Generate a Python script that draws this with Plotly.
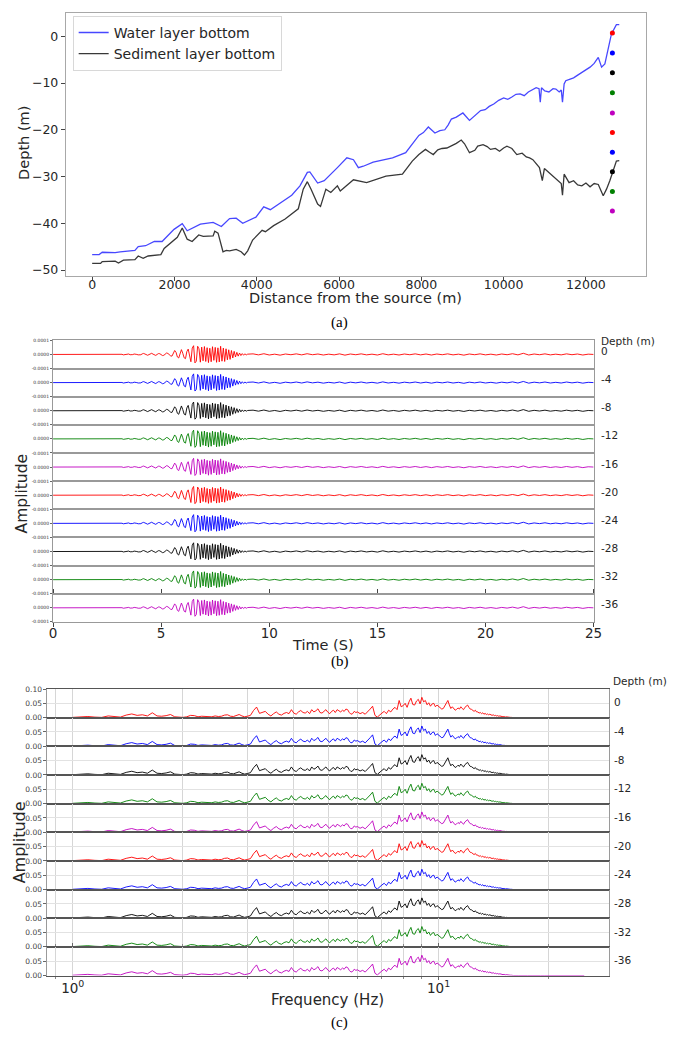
import numpy as np
import plotly.graph_objects as go

W, H = 686, 1039


def fx(px):
    return px / W


def fy(py):
    return 1 - py / H


# ---------------- panel (a) data ----------------
water_dist = [0, 170, 245, 560, 680, 1040, 1120, 1300, 1510, 1700,
              1990, 2190, 2310, 2630, 2940, 3140, 3340, 3500, 3660, 3980,
              4170, 4330, 4850, 5050, 5230, 5290, 5480, 5640, 5960,
              6190, 6350, 6470, 6590, 6830, 7300, 7620, 7940, 8050, 8170,
              8330, 8450, 8570, 8650, 8730, 8850, 9010, 9170, 9300, 9440,
              9550, 9650, 9760, 9880, 10000, 10100, 10200, 10300, 10400, 10500,
              10600, 10700, 10790, 10860, 10890, 10920, 10950, 11000, 11100, 11200,
              11270, 11350, 11400, 11430, 11470, 11510, 11600, 11700, 11800, 11900,
              12000, 12100, 12200, 12300, 12380, 12460, 12620, 12740, 12810]
water_depth = [-46.7, -46.7, -46.2, -46.3, -46.1, -45.8, -45.0, -44.8, -43.9, -43.9,
               -41.3, -40.1, -41.6, -40.2, -39.8, -40.7, -39.0, -38.9, -40.0, -38.7,
               -36.5, -37.1, -34.0, -32.0, -29.1, -29.0, -31.4, -30.9, -28.1,
               -26.0, -26.4, -28.1, -27.8, -26.9, -26.0, -24.9, -21.2, -20.6, -19.4,
               -20.7, -20.2, -20.0, -19.0, -17.7, -17.3, -16.4, -18.0, -16.9, -15.9,
               -15.7, -15.0, -14.5, -13.7, -13.2, -13.5, -13.0, -12.4, -12.3, -12.7,
               -11.9, -11.4, -11.0, -11.2, -14.1, -11.0, -11.3, -11.7, -11.9, -11.2,
               -11.3, -11.9, -11.5, -14.1, -10.2, -9.5, -9.2, -8.9, -8.3, -7.7,
               -7.2, -6.6, -5.8, -4.5, -6.6, -5.9, 0.5, 2.5, 2.5]

sed_dist = [0, 205, 245, 560, 640, 760, 1040, 1120, 1240, 1360,
            1670, 1750, 2070, 2190, 2310, 2430, 2590, 2700, 2940, 2980,
            3060, 3180, 3260, 3340, 3500, 3620, 3700, 3780, 3900, 4130,
            4210, 4410, 4690, 5010, 5130, 5230, 5320, 5480, 5550, 5680,
            5800, 5960, 6030, 6350, 6670, 7140, 7540, 7780, 7940, 8100,
            8200, 8290, 8400, 8500, 8620, 8730, 8850, 8970, 9050, 9170,
            9300, 9370, 9500, 9600, 9680, 9800, 9900, 10000, 10080, 10200,
            10320, 10450, 10550, 10630, 10710, 10870, 10940, 10990, 11270, 11400,
            11430, 11470, 11590, 11700, 11800, 11900, 12000, 12100, 12200, 12300,
            12420, 12500, 12580, 12660, 12740, 12810]
sed_depth = [-48.6, -48.6, -48.2, -48.1, -48.5, -47.9, -47.8, -47.0, -47.5, -47.0,
             -46.7, -45.4, -43.0, -41.0, -43.4, -43.9, -42.5, -42.8, -42.7, -41.7,
             -42.1, -46.1, -45.8, -45.9, -45.6, -46.1, -46.8, -45.9, -43.6, -41.5,
             -41.8, -40.5, -39.1, -36.9, -32.7, -31.1, -32.7, -35.9, -36.4, -32.7,
             -33.4, -32.0, -33.1, -30.7, -31.3, -29.9, -29.5, -26.7, -25.3, -24.2,
             -24.8, -25.3, -24.3, -24.0, -23.9, -23.5, -22.9, -22.2, -23.0, -24.9,
             -24.4, -23.5, -23.2, -23.6, -24.2, -24.0, -24.6, -23.9, -23.5, -24.0,
             -25.3, -25.0, -25.8, -26.0, -26.4, -28.1, -30.9, -28.3, -30.6, -31.5,
             -34.0, -29.5, -31.3, -30.9, -31.8, -32.0, -31.4, -32.2, -31.5, -31.7,
             -34.1, -32.7, -30.9, -28.8, -26.7, -26.6]

receiver_dist = 12643
receiver_depth = [0.7, -3.6, -7.8, -12.1, -16.4, -20.6, -24.8, -29.0, -33.2, -37.4]
trace_colors = ["#ff0000", "#0000ff", "#000000", "#008000", "#bf00bf",
                "#ff0000", "#0000ff", "#000000", "#008000", "#bf00bf"]
depth_labels = ["0", "-4", "-8", "-12", "-16", "-20", "-24", "-28", "-32", "-36"]

a_xticks = [0, 2000, 4000, 6000, 8000, 10000, 12000]
a_yticks = [0, -10, -20, -30, -40, -50]

# ---------------- panel (b) data (amplitude in 1e-6) ----------------
t_pre = [0.0, 2.9375]
wave_pre = [0, 0]
wave_main = [0, 2, 4, 1, -3, -2, 2, 5, 3, -2, -4, -1, 3, 4, 0, -3,
             -5, -2, 4, 7, 3, -4, -6, -1, 5, 8, 2, -5, -7, 0, 6, 5,
             -2, -8, -6, 3, 10, 7, -4, -10,
             -12, 6, 28, 15, -18, -25, 12, 34,
             8, -24, -30, 20, 38, -10, -52, 45,
             62, -60, -48, 58, 40, -55, 52, -45,
             56, -50, 48, -58, 44, -52, 55, -42,
             50, -56, 47, -53, 58, -48, 45, -50,
             40, -38, 33, -35, 28, -25, 22, -18,
             15, -12, 10, -8, 6, -5, 4, -3, 2]
wave_tail = [4, -3, 5, -4, 2, -5, 3, -2,
             4, -3, 5, -2, 3, -4, 2, -3,
             4, -5, 3, -2, 4, -3, 2, -4,
             5, -3, 2, -4, 3, -2, 4, -3,
             3, -4, 3, -2, 4, -3, 2, -5,
             3, -2, 4, -3, 2, -4, 3, -2,
             5, -3, 8, -4, 3, -2, 4, -3,
             2, -3, 4, -2, 3, -4, 2, 0]
t_main = 3.0 + 0.0625 * np.arange(len(wave_main))
t_tail = 9.25 + 0.25 * np.arange(len(wave_tail))
b_xticks = [0, 5, 10, 15, 20, 25]

# ---------------- panel (c) data (amplitude in 1e-3) ----------------
spec_a = [1, 2, 4, 2, 1, 6, 3, 2, 9, 13,
          8, 10, 6, 17, 6, 5, 7, 11, 3, 2,
          1, 3, 8, 7, 3, 5, 4, 2, 3, 6,
          4, 5, 9, 10, 5, 4, 8, 11, 6, 3, 5]
spec_b = [8, 25, 37, 15, 18, 22, 12, 6, 14, 20,
          12, 9, 15, 18, 14, 28, 16, 12, 20, 25,
          18, 16, 22, 14, 28, 20, 24, 31, 18, 16,
          22, 28, 19, 14, 22, 26, 18, 28, 24, 20,
          26, 22, 30, 28, 18, 12, 14, 22, 18, 20]
spec_c = [14, 18, 12, 20, 30, 40, 8, 2, 10, 16,
          22, 14, 26, 20, 30, 36, 28, 60, 38, 42,
          50, 36, 55, 68, 46, 44, 58, 64, 48, 71,
          55, 60, 45, 52, 40, 48, 50, 38, 44, 40,
          36, 30, 32, 42, 50, 60, 44, 32, 38, 30,
          26, 29, 34, 30, 38, 32, 28, 36, 40, 44,
          36, 30, 29, 24, 22, 26, 20, 20, 16, 18,
          14, 17, 12, 15, 11, 13, 10, 12, 9, 8,
          10, 7, 8, 6, 7, 5, 6, 4, 5, 3,
          4, 2, 3, 2, 2, 1, 1, 1, 0, 0]
spec_d = [0, 1, 0, 0, 1, 0, 0, 0, 0, 0, 0, 0, 0, 0, 0, 0, 0, 0]
f_a = 1.0 + 0.05 * np.arange(len(spec_a))
f_b = 3.06 + 0.06 * np.arange(len(spec_b))
f_c = 6.1 + 0.1 * np.arange(len(spec_c))
f_d = 16.5 + 0.5 * np.arange(len(spec_d))
c_major_vals = [1, 10]
c_major_text = ["10<sup>0</sup>", "10<sup>1</sup>"]
c_minor_vals = [0.9, 2, 3, 4, 5, 6, 7, 8, 9, 20]

assert len(water_dist) == len(water_depth)
assert len(sed_dist) == len(sed_depth)

# ---------------- build ----------------
FONT = "DejaVu Sans"
TXT = "#262626"

t_all = np.concatenate([t_pre, t_main, t_tail])
wave_all = np.array(wave_pre + wave_main + wave_tail, dtype=float) * 1e-6
f_all = np.concatenate([f_a, f_b, f_c, f_d])
spec_all = np.array(spec_a + spec_b + spec_c + spec_d, dtype=float) * 1e-3

fig = go.Figure()

fig.add_trace(go.Scatter(x=water_dist, y=water_depth, mode="lines", name="Water layer bottom",
                         line=dict(color="rgba(0,0,255,0.72)", width=1.3), xaxis="x", yaxis="y"))
fig.add_trace(go.Scatter(x=sed_dist, y=sed_depth, mode="lines", name="Sediment layer bottom",
                         line=dict(color="rgba(0,0,0,0.78)", width=1.3), xaxis="x", yaxis="y"))
fig.add_trace(go.Scatter(x=[receiver_dist] * len(receiver_depth), y=receiver_depth, mode="markers",
                         marker=dict(color=trace_colors, size=5), showlegend=False,
                         xaxis="x", yaxis="y"))

layout = {}
layout["xaxis"] = dict(domain=[fx(63), fx(654)], range=[-640, 13450], anchor="y",
                       tickvals=a_xticks, tickformat="d", ticks="outside", ticklen=4,
                       tickcolor="#444", showline=True, mirror=True, linecolor="#a8a8a8",
                       showgrid=False, zeroline=False, ticklabelstandoff=-7,
                       tickfont=dict(size=12.5, color=TXT, family=FONT))
layout["yaxis"] = dict(domain=[fy(274), fy(9)], range=[-51.2, 5.0], anchor="x",
                       tickvals=a_yticks, ticks="outside", ticklen=4, tickcolor="#444",
                       showline=True, mirror=True, linecolor="#a8a8a8",
                       showgrid=False, zeroline=False,
                       tickfont=dict(size=12.5, color=TXT, family=FONT))

# panel (b)
b_top, b_h = 339.3, 28.4
for i in range(10):
    ax = 2 + i
    fig.add_trace(go.Scatter(x=t_all, y=wave_all, mode="lines",
                             line=dict(color=trace_colors[i], width=0.9),
                             xaxis="x2", yaxis=f"y{ax}", showlegend=False))
    if i == 0:
        tv, tt = [-1e-4, 0, 1e-4], ["-0.0001", "0.0000", "0.0001"]
    else:
        tv, tt = [-1e-4, 0], ["-0.0001", "0.0000"]
    layout[f"yaxis{ax}"] = dict(domain=[fy(b_top + b_h * (i + 1)), fy(b_top + b_h * i)],
                                range=[-1e-4, 1e-4], anchor="x2",
                                tickvals=tv, ticktext=tt,
                                ticks="outside", ticklen=2, tickcolor="#666",
                                showline=True, mirror=True, linecolor="#999", linewidth=1.2,
                                showgrid=False, zeroline=False,
                                tickfont=dict(size=4.5, color="#333", family=FONT))
layout["xaxis2"] = dict(domain=[fx(50), fx(601)], range=[0, 25], anchor="y11",
                        tickvals=b_xticks, ticks="outside", ticklen=4, tickcolor="#444",
                        showline=True, mirror="all", linecolor="#999", linewidth=1.2,
                        showgrid=False, zeroline=False, ticklabelstandoff=-5,
                        tickfont=dict(size=13.5, color=TXT, family=FONT))

# panel (c)
c_top, c_h = 691.0, 28.9
for i in range(10):
    ax = 12 + i
    fig.add_trace(go.Scatter(x=f_all, y=spec_all, mode="lines",
                             line=dict(color=trace_colors[i], width=0.9),
                             xaxis="x3", yaxis=f"y{ax}", showlegend=False))
    if i == 0:
        tv, tt = [0, 0.05, 0.1], ["0.00", "0.05", "0.10"]
    else:
        tv, tt = [0, 0.05], ["0.00", "0.05"]
    layout[f"yaxis{ax}"] = dict(domain=[fy(c_top + c_h * (i + 1)), fy(c_top + c_h * i)],
                                range=[0, 0.1], anchor="x3",
                                tickvals=tv, ticktext=tt,
                                ticks="outside", ticklen=3, tickcolor="#666",
                                showline=True, mirror=True, linecolor="#9a9a9a",
                                showgrid=True, gridcolor="#e2e2e2", gridwidth=1,
                                zeroline=False,
                                tickfont=dict(size=7.5, color="#444", family=FONT))
layout["xaxis3"] = dict(domain=[fx(44.3), fx(616.3)], type="log",
                        range=[np.log10(0.853), np.log10(29.15)], anchor="y21",
                        tickvals=c_major_vals, ticktext=c_major_text,
                        ticks="outside", ticklen=3, tickcolor="#666",
                        minor=dict(tickvals=c_minor_vals, ticks="outside", ticklen=2,
                                   tickcolor="#888", showgrid=True, gridcolor="#d6d6d6"),
                        showline=True, mirror="all", linecolor="#555", linewidth=1.2,
                        showgrid=True, gridcolor="#d6d6d6", gridwidth=1, zeroline=False,
                        ticklabelstandoff=-3,
                        tickfont=dict(size=13.5, color=TXT, family=FONT))


def ann(text, x, y, size, angle=0, family=FONT, xanchor="center", color=TXT):
    return dict(text=text, x=fx(x), y=fy(y), xref="paper", yref="paper", showarrow=False,
                textangle=angle, xanchor=xanchor, yanchor="middle",
                font=dict(size=size, color=color, family=family))


annotations = [
    ann("Depth (m)", 21, 140.5, 14.5, angle=-90),
    ann("Distance from the source (m)", 358.5, 297, 14.5),
    ann("(a)", 342, 321, 15, family="Liberation Serif", color="#000"),
    ann("Amplitude", 18, 494, 15.5, angle=-90),
    ann("Time (S)", 325.5, 647, 14.5),
    ann("(b)", 342, 663, 15, family="Liberation Serif", color="#000"),
    ann("Depth (m)", 606, 340, 10.5, xanchor="left"),
    ann("Amplitude", 16, 846, 16, angle=-90),
    ann("Frequency (Hz)", 330, 1005, 15),
    ann("(c)", 342, 1027, 15, family="Liberation Serif", color="#000"),
    ann("Depth (m)", 619, 683, 10.5, xanchor="left"),
]
for i, lab in enumerate(depth_labels):
    annotations.append(ann(lab, 607, b_top + b_h * (i + 0.5) - 3.5, 10.5, xanchor="left"))
    annotations.append(ann(lab, 620, c_top + c_h * (i + 0.5) - 1, 10.5, xanchor="left"))

layout.update(dict(
    width=W, height=H, margin=dict(l=0, r=0, t=0, b=0),
    paper_bgcolor="white", plot_bgcolor="white",
    font=dict(family=FONT, color=TXT),
    showlegend=True,
    legend=dict(x=fx(70), y=fy(12), xanchor="left", yanchor="top",
                bgcolor="rgba(255,255,255,0.85)", bordercolor="#d8d8d8", borderwidth=1,
                font=dict(size=14, color=TXT, family=FONT), itemwidth=30, tracegroupgap=0),
    annotations=annotations,
))
fig.update_layout(**layout)

fig.write_html("out.html", post_script="document.body.style.margin='0px';")
